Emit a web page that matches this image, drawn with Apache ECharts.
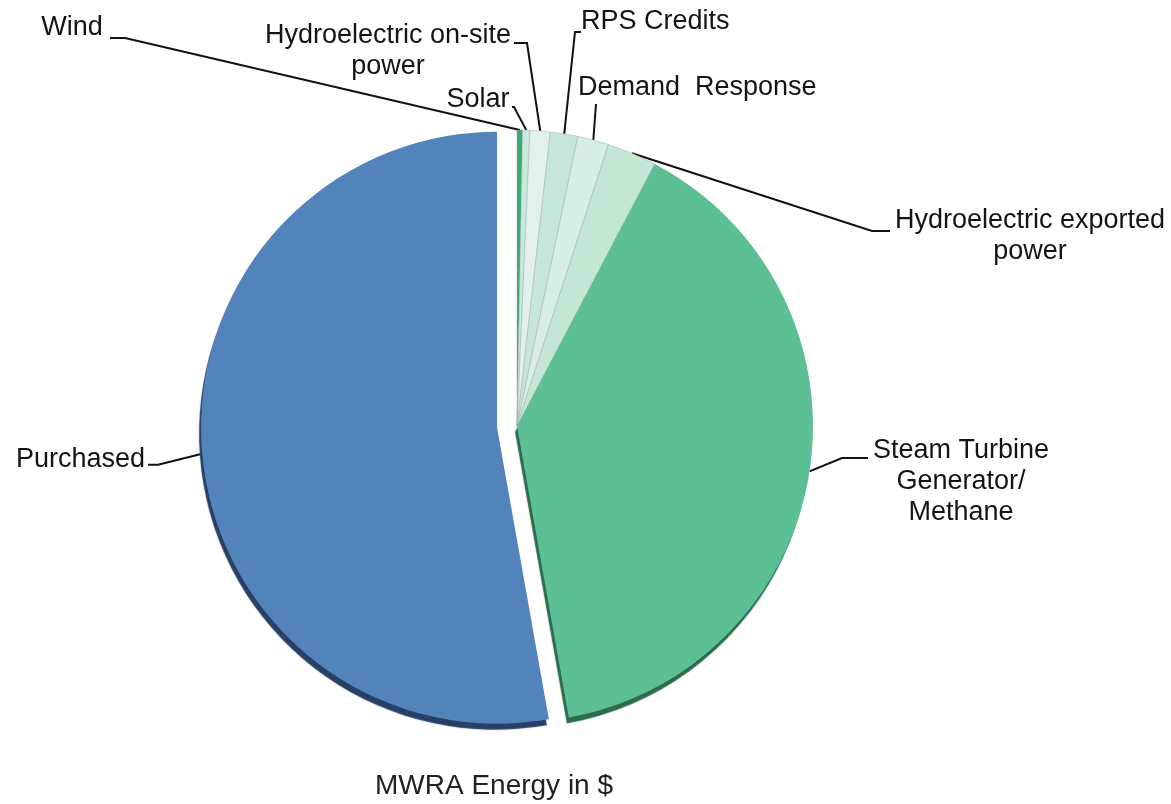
<!DOCTYPE html>
<html>
<head>
<meta charset="utf-8">
<script src="https://cdn.jsdelivr.net/npm/echarts@6/dist/echarts.min.js"></script>
<style>html,body{margin:0;padding:0;background:#fff}#c{width:1171px;height:804px}</style>
</head>
<body>
<div id="c"></div>
<script>
// ---- data ----
const categories = ['Wind', 'Solar', 'Hydroelectric on-site\npower', 'RPS Credits', 'Demand  Response',
  'Hydroelectric exported\npower', 'Steam Turbine\nGenerator/\nMethane', 'Purchased'];
const shares = [0.3, 0.4, 1.1, 1.5, 1.7, 2.7, 39.5, 52.8];
const chartTitle = 'MWRA Energy in $';

// ---- styling ----
const colors = ['#3aa874', '#c9e9d9', '#e2f2eb', '#c6e7d7', '#d6eee3', '#c4e6d5', '#5cbf96', '#5383bb'];
const edgeColors = [null, null, null, null, null, null, '#2c6b4d', '#263f63'];
// label placement: text anchor, alignment, and guide elbow/end
const labelPlace = [
  { x: 72, y: 28, align: 'center', pts: [[125, 38], [110, 38]] },
  { x: 478, y: 100, align: 'center', pts: [[514, 107], [512, 107]] },
  { x: 388, y: 51, align: 'center', pts: [[527, 43], [514, 43]] },
  { x: 581, y: 22, align: 'left', pts: [[575, 32], [581, 32]] },
  { x: 578, y: 88, align: 'left', pts: [[596, 104], [596, 104]] },
  { x: 1030, y: 236, align: 'center', pts: [[872, 231], [890, 231]] },
  { x: 961, y: 482, align: 'center', pts: [[842, 458], [868, 458]] },
  { x: 165, y: 458, align: 'right', rel: true, pts: [[178, 463], [168, 463]] }
];

const data = categories.map((n, i) => {
  const d = {
    name: n, value: shares[i],
    itemStyle: { color: colors[i] }
  };
  if (edgeColors[i]) {
    d.itemStyle.shadowColor = edgeColors[i];
    d.itemStyle.shadowOffsetY = 6;
    d.itemStyle.shadowOffsetX = -2;
    d.itemStyle.shadowBlur = 1;
    d.itemStyle.borderWidth = 0;
  } else {
    d.itemStyle.borderColor = 'rgba(150,165,158,0.7)';
    d.itemStyle.borderWidth = 0.6;
  }
  if (n === 'Purchased') d.selected = true;
  return d;
});

const chart = echarts.init(document.getElementById('c'), null, { renderer: 'canvas' });
chart.setOption({
  backgroundColor: '#ffffff',
  animation: false,
  title: {
    text: chartTitle, left: 489, top: 767, textAlign: 'center',
    textStyle: { fontFamily: 'Liberation Sans, Arial, sans-serif', fontSize: 28, fontWeight: 'normal', color: '#222' }
  },
  series: [{
    type: 'pie',
    center: [517, 426],
    radius: [0, 296],
    startAngle: 90,
    clockwise: true,
    selectedMode: 'single',
    selectedOffset: 20,
    avoidLabelOverlap: false,
    silent: true,
    data: data,
    label: {
      show: true,
      position: 'outside',
      formatter: '{b}',
      fontFamily: 'Liberation Sans, Arial, sans-serif',
      fontSize: 27,
      lineHeight: 31,
      color: '#141414'
    },
    labelLine: {
      show: true,
      length: 10, length2: 10,
      lineStyle: { color: '#111', width: 2 }
    },
    labelLayout: function (p) {
      const lp = labelPlace[p.dataIndex];
      const anchor = p.labelLinePoints ? p.labelLinePoints[0] : lp.pts[0];
      if (lp.rel) {
        const r = p.labelRect;
        return {
          dx: (lp.x - r.width) - r.x,
          dy: (lp.y - r.height / 2) - r.y,
          labelLinePoints: [anchor, lp.pts[0], lp.pts[1]]
        };
      }
      return {
        x: lp.x, y: lp.y, align: lp.align, verticalAlign: 'middle',
        labelLinePoints: [anchor, lp.pts[0], lp.pts[1]]
      };
    }
  }]
});
</script>
</body>
</html>
